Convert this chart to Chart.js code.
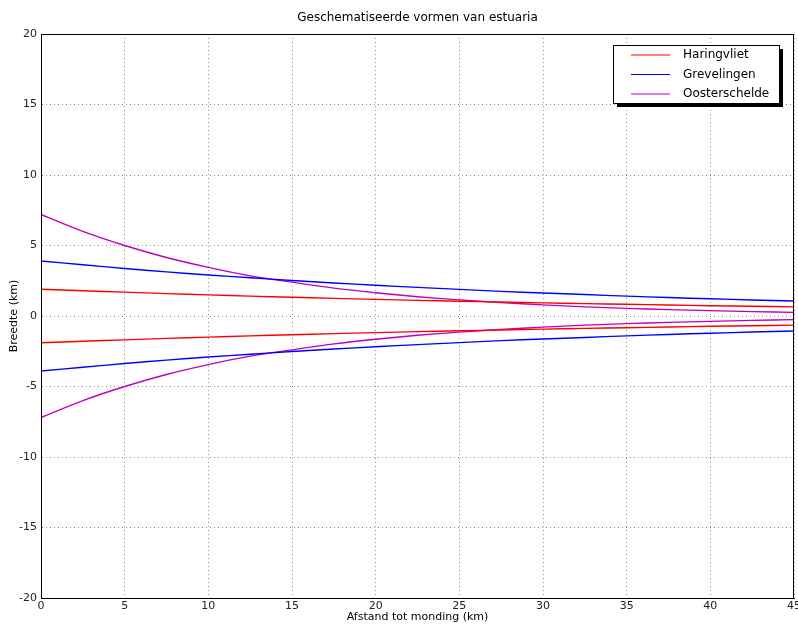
<!DOCTYPE html>
<html lang="nl">
<head>
  <meta charset="UTF-8">
  <title>Geschematiseerde vormen van estuaria</title>
  <style>
    html, body { margin: 0; padding: 0; background: #fff; }
    #wrap { width: 798px; height: 624px; }
  </style>
  <script src="https://cdn.jsdelivr.net/npm/chart.js"></script>
</head>
<body>
  <div id="wrap"><canvas id="estuaria"></canvas></div>
  <script>
    // afstand tot monding (km)
    const afstand = [0, 2.5, 5, 7.5, 10, 12.5, 15, 17.5, 20, 22.5, 25, 27.5, 30, 32.5, 35, 37.5, 40, 42.5, 45];
    // halve breedte (km)
    const haringvliet = [1.9, 1.79, 1.69, 1.59, 1.5, 1.41, 1.33, 1.25, 1.18, 1.11, 1.05, 0.99, 0.93, 0.88, 0.83, 0.78, 0.73, 0.69, 0.65];
    const grevelingen = [3.9, 3.63, 3.37, 3.13, 2.91, 2.71, 2.52, 2.34, 2.18, 2.03, 1.89, 1.75, 1.63, 1.52, 1.41, 1.31, 1.22, 1.14, 1.06];
    const oosterschelde = [7.2, 6.0, 5.0, 4.15, 3.45, 2.85, 2.4, 1.98, 1.65, 1.37, 1.14, 0.95, 0.79, 0.65, 0.54, 0.45, 0.38, 0.31, 0.26];
    const namen = ['Haringvliet', 'Grevelingen', 'Oosterschelde'];
    const kleuren = ['#ff0000', '#0000ff', '#bf00bf'];
    const xTicks = [0, 5, 10, 15, 20, 25, 30, 35, 40, 45];
    const yTicks = [-20, -15, -10, -5, 0, 5, 10, 15, 20];

    const FONT = 'DejaVu Sans';
    const reeksen = [haringvliet, grevelingen, oosterschelde];

    const datasets = [];
    reeksen.forEach((r, i) => {
      datasets.push({
        label: namen[i],
        data: afstand.map((x, j) => ({ x: x, y: r[j] })),
        borderColor: kleuren[i], borderWidth: 1.4, pointRadius: 0, tension: 0.3, fill: false
      });
      datasets.push({
        label: namen[i] + ' (neg)',
        data: afstand.map((x, j) => ({ x: x, y: -r[j] })),
        borderColor: kleuren[i], borderWidth: 1.4, pointRadius: 0, tension: 0.3, fill: false
      });
    });

    // kader, titel en legenda zoals in de originele figuur
    const extras = {
      id: 'extras',
      afterDraw(chart) {
        const c = chart.ctx, a = chart.chartArea;
        c.save();
        c.strokeStyle = '#000'; c.lineWidth = 1;
        c.strokeRect(a.left + 0.5, a.top + 0.5, a.right - a.left - 1, a.bottom - a.top);

        c.fillStyle = '#000';
        c.font = '12px "' + FONT + '"';
        c.textAlign = 'center'; c.textBaseline = 'middle';
        c.fillText('Geschematiseerde vormen van estuaria', (a.left + a.right) / 2, 18);

        // legenda
        const lx = 613, ly = 45, lw = 166, lh = 58;
        c.fillStyle = '#000';
        c.fillRect(lx + 4, ly + 4, lw, lh);
        c.fillStyle = '#fff';
        c.fillRect(lx, ly, lw, lh);
        c.strokeStyle = '#000'; c.lineWidth = 1;
        c.strokeRect(lx + 0.5, ly + 0.5, lw, lh);
        c.textAlign = 'left';
        c.font = '12px "' + FONT + '"';
        namen.forEach((n, i) => {
          const y = ly + 10 + i * 19.5;
          c.strokeStyle = kleuren[i]; c.lineWidth = 1.2;
          c.beginPath(); c.moveTo(lx + 18, y); c.lineTo(lx + 57, y); c.stroke();
          c.fillStyle = '#000';
          c.fillText(n, lx + 70, y);
        });
        c.restore();
      }
    };

    new Chart(document.getElementById('estuaria'), {
      type: 'line',
      data: { datasets: datasets },
      options: {
        responsive: true,
        maintainAspectRatio: false,
        animation: false,
        layout: { padding: { top: 34, right: 4, left: 0, bottom: 0 } },
        plugins: { legend: { display: false }, title: { display: false }, tooltip: { enabled: false } },
        scales: {
          x: {
            type: 'linear', min: 0, max: 45,
            afterBuildTicks: s => { s.ticks = xTicks.map(v => ({ value: v })); },
            afterFit: s => { s.height = 26; s.paddingRight = 0; s.paddingLeft = 0; },
            grid: { color: '#909090', lineWidth: 1, drawTicks: false },
            border: { display: true, color: '#000', dash: [1, 3] },
            ticks: { color: '#222', padding: 2, maxRotation: 0, font: { family: FONT, size: 11 } },
            title: { display: true, text: 'Afstand tot monding (km)', color: '#000', padding: 0, font: { family: FONT, size: 11 } }
          },
          y: {
            type: 'linear', min: -20, max: 20,
            afterBuildTicks: s => { s.ticks = yTicks.map(v => ({ value: v })); },
            afterFit: s => { s.width = 41; },
            grid: { color: '#909090', lineWidth: 1, drawTicks: false },
            border: { display: true, color: '#000', dash: [1, 3] },
            ticks: { color: '#222', padding: 4, font: { family: FONT, size: 11 } },
            title: { display: true, text: 'Breedte (km)', color: '#000', padding: { top: 8, bottom: 0 }, font: { family: FONT, size: 11 } }
          }
        }
      },
      plugins: [extras]
    });
  </script>
</body>
</html>
